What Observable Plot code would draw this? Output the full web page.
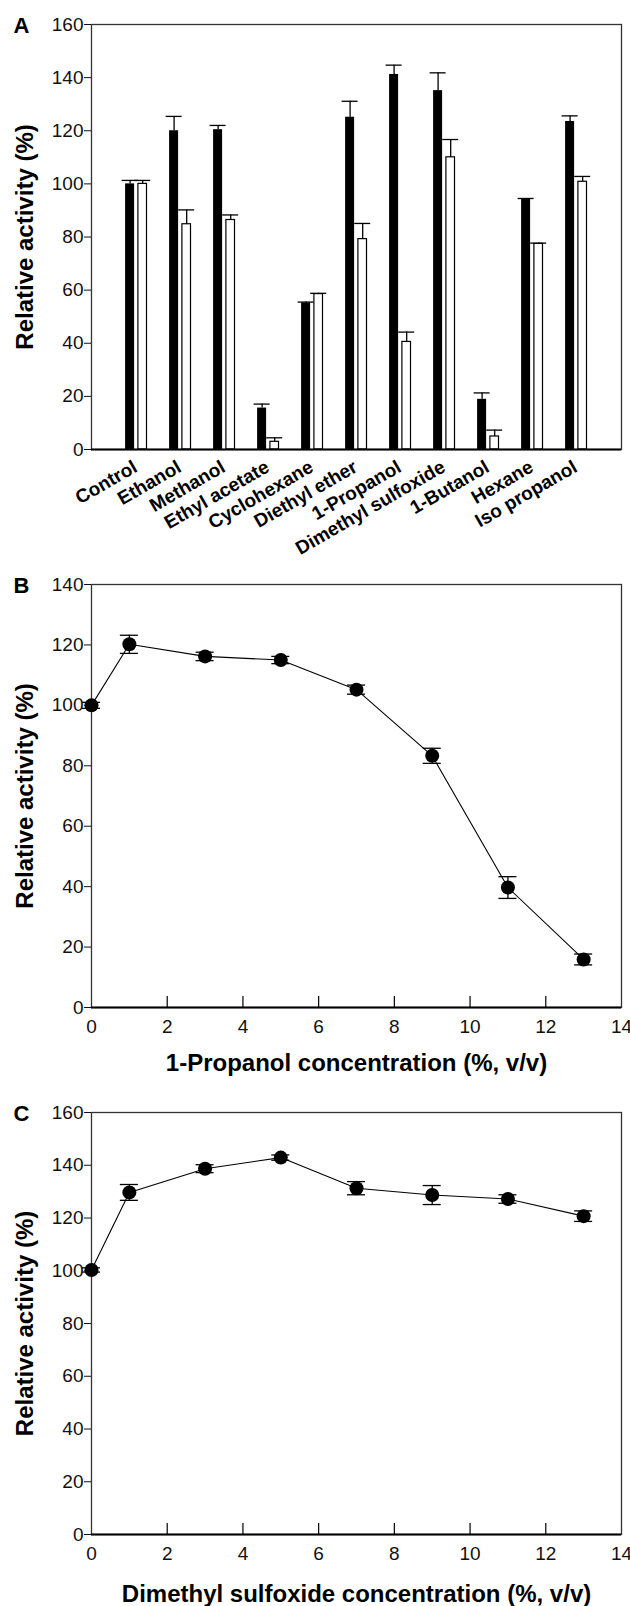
<!DOCTYPE html>
<html>
<head>
<meta charset="utf-8">
<script src="https://cdn.jsdelivr.net/npm/d3@7"></script>
<script src="https://cdn.jsdelivr.net/npm/@observablehq/plot@0.6"></script>
<style>
  html, body { margin: 0; padding: 0; background: #fff; }
  #chart { width: 630px; }
  #chart svg { display: block; }
</style>
</head>
<body>
<div id="chart"></div>
<script>
// ---------- Panel A: solvent effect ----------
const solvents = ["Control", "Ethanol", "Methanol", "Ethyl acetate", "Cyclohexane", "Diethyl ether",
  "1-Propanol", "Dimethyl sulfoxide", "1-Butanol", "Hexane", "Iso propanol"];
const blackValues = [100, 120, 120.4, 15.6, 55.2, 125.1, 141.2, 135.1, 18.9, 94.2, 123.5];
const blackErrors = [1.3, 5.4, 1.6, 1.5, 0.3, 6.0, 3.5, 6.7, 2.4, 0.3, 2.1];
const whiteValues = [100, 84.8, 86.4, 2.9, 58.5, 79.2, 40.5, 110, 4.9, 77.4, 100.8];
const whiteErrors = [1.3, 5.4, 1.9, 1.5, 0.3, 5.9, 3.7, 6.7, 2.4, 0.3, 2.0];
const yTicksA = [0, 20, 40, 60, 80, 100, 120, 140, 160];

// ---------- Panel B: 1-propanol concentration ----------
const concentrations = [0, 1, 3, 5, 7, 9, 11, 13];
const propanolValues = [100, 120.2, 116.2, 115, 105.2, 83.3, 39.7, 15.9];
const propanolErrors = [1.0, 3.0, 1.4, 1.2, 1.5, 2.5, 3.6, 1.8];
const yTicksB = [0, 20, 40, 60, 80, 100, 120, 140];

// ---------- Panel C: DMSO concentration ----------
const dmsoValues = [100.3, 129.7, 138.7, 142.9, 131.3, 128.7, 127.2, 120.7];
const dmsoErrors = [0.8, 3.0, 1.5, 1.0, 2.5, 3.6, 1.6, 2.0];
const yTicksC = [0, 20, 40, 60, 80, 100, 120, 140, 160];

const xTicks = [0, 2, 4, 6, 8, 10, 12, 14];
const xInnerTicks = [2, 4, 6, 8, 10, 12];

// ---------- layout ----------
const W = 630, ML = 91, MR = 9;
const FONT = "'Liberation Sans', Arial, Helvetica, sans-serif";
const baseStyle = {fontFamily: FONT, fontSize: "19px", background: "white", color: "#111", overflow: "visible"};
const yLabel = "Relative activity (%)";

const blackData = solvents.map((s, i) => ({solvent: s, value: blackValues[i], err: blackErrors[i]}));
const whiteData = solvents.map((s, i) => ({solvent: s, value: whiteValues[i], err: whiteErrors[i]}));

function panelMarks(letter) {
  return [
    Plot.text([yLabel], {frameAnchor: "left", rotate: -90, dx: -66, textAnchor: "middle", lineAnchor: "middle",
      fontWeight: "bold", fontSize: 24, fill: "black"}),
    Plot.text([letter], {frameAnchor: "top-left", dx: -70, dy: 1, textAnchor: "middle", lineAnchor: "middle",
      fontWeight: "bold", fontSize: 22, fill: "black"})
  ];
}

const plotA = Plot.plot({
  width: W, height: 570,
  marginTop: 24, marginBottom: 121, marginLeft: ML, marginRight: MR,
  style: baseStyle,
  x: {type: "band", domain: solvents, paddingInner: 0, paddingOuter: 0.5, axis: null},
  y: {domain: [0, 160], ticks: yTicksA, tickSize: 7, tickPadding: 1, label: null},
  marks: [
    Plot.barY(blackData, {x: "solvent", y: "value", fill: "black", insetLeft: 11.1, insetRight: 23.9}),
    Plot.barY(whiteData, {x: "solvent", y: "value", fill: "white", stroke: "black", strokeWidth: 1.2, insetLeft: 23.9, insetRight: 11.5}),
    Plot.ruleX(blackData, {x: "solvent", y1: "value", y2: d => d.value + d.err, dx: -6.4, stroke: "black", strokeWidth: 1.3}),
    Plot.tickY(blackData, {x: "solvent", y: d => d.value + d.err, dx: -6.4, insetLeft: 14, insetRight: 14, stroke: "black", strokeWidth: 1.3}),
    Plot.ruleX(whiteData, {x: "solvent", y1: "value", y2: d => d.value + d.err, dx: 6.2, stroke: "black", strokeWidth: 1.3}),
    Plot.tickY(whiteData, {x: "solvent", y: d => d.value + d.err, dx: 6.2, insetLeft: 14, insetRight: 14, stroke: "black", strokeWidth: 1.3}),
    Plot.frame({stroke: "#333", strokeWidth: 1.3}),
    Plot.ruleY([0], {stroke: "black", strokeWidth: 2}),
    Plot.text(solvents, {x: d => d, frameAnchor: "bottom", rotate: -30, textAnchor: "end", lineAnchor: "middle",
      dx: -1, dy: 16, fontWeight: "bold", fontSize: 19, fill: "black"}),
    ...panelMarks("A")
  ]
});

function concPlot({values, errors, yDomain, yTicks, letter, title, height, marginTop, marginBottom, titleDy}) {
  const data = concentrations.map((c, i) => ({c, v: values[i], e: errors[i]}));
  return Plot.plot({
    width: W, height,
    marginTop, marginBottom, marginLeft: ML, marginRight: MR,
    style: baseStyle,
    x: {domain: [0, 14], ticks: xTicks, tickSize: 0, tickPadding: 12, label: null},
    y: {domain: yDomain, ticks: yTicks, tickSize: 7, tickPadding: 1, label: null},
    marks: [
      Plot.frame({stroke: "#333", strokeWidth: 1.3}),
      Plot.ruleY([0], {stroke: "black", strokeWidth: 1.8}),
      Plot.ruleX(xInnerTicks, {x: d => d, y1: 0, y2: 0, insetTop: -11, stroke: "black", strokeWidth: 1.2}),
      Plot.line(data, {x: "c", y: "v", stroke: "black", strokeWidth: 1.1}),
      Plot.ruleX(data, {x: "c", y1: d => d.v - d.e, y2: d => d.v + d.e, stroke: "black", strokeWidth: 1.3}),
      Plot.ruleY(data, {y: d => d.v + d.e, x1: "c", x2: "c", insetLeft: -9, insetRight: -9, stroke: "black", strokeWidth: 1.3}),
      Plot.ruleY(data, {y: d => d.v - d.e, x1: "c", x2: "c", insetLeft: -9, insetRight: -9, stroke: "black", strokeWidth: 1.3}),
      Plot.dot(data, {x: "c", y: "v", r: 7, fill: "black", stroke: null}),
      Plot.text([title], {frameAnchor: "bottom", dy: titleDy, textAnchor: "middle", lineAnchor: "middle",
        fontWeight: "bold", fontSize: 24, fill: "black"}),
      ...panelMarks(letter)
    ]
  });
}

const plotB = concPlot({
  values: propanolValues, errors: propanolErrors, yDomain: [0, 140], yTicks: yTicksB,
  letter: "B", title: "1-Propanol concentration (%, v/v)",
  height: 510, marginTop: 14, marginBottom: 73, titleDy: 56
});

const plotC = concPlot({
  values: dmsoValues, errors: dmsoErrors, yDomain: [0, 160], yTicks: yTicksC,
  letter: "C", title: "Dimethyl sulfoxide concentration (%, v/v)",
  height: 526, marginTop: 32, marginBottom: 72, titleDy: 60
});

const root = document.getElementById("chart");
root.append(plotA, plotB, plotC);
</script>
</body>
</html>
